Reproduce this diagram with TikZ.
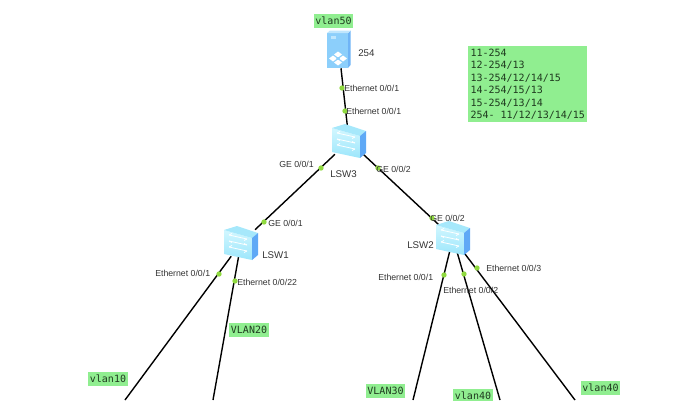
\documentclass[tikz,border=0pt]{standalone}
\usepackage{fontspec}
\setmainfont{Liberation Sans}
\newfontfamily\monofam{DejaVu Sans Mono}
\definecolor{notegreen}{HTML}{90EE90}
\definecolor{portgreen}{HTML}{8FD93F}
\definecolor{swtop}{HTML}{A6E8FB}
\definecolor{swfronta}{HTML}{D2F7FF}
\definecolor{swfrontb}{HTML}{9CE6FB}
\definecolor{swside}{HTML}{5FA9F6}
\definecolor{srvfront}{HTML}{8CCFFB}
\definecolor{srvtop}{HTML}{BFE6FD}
\definecolor{srvside}{HTML}{6FB4F6}
\definecolor{labelgrey}{HTML}{333333}
\definecolor{tagtext}{HTML}{1F3A1F}
\tikzset{
  swnode/.style={inner sep=0pt,minimum width=22.5pt,minimum height=19.5pt},
  srvnode/.style={inner sep=0pt,minimum width=16.5pt,minimum height=27pt},
  port/.style={circle,fill=portgreen,inner sep=0pt,minimum size=4pt},
  link/.style={draw=black,line width=1.05pt},
  portlabel/.style={inner sep=0pt,font=\fontsize{6.55}{8}\selectfont,text=labelgrey},
  devlabel/.style={inner sep=0pt,font=\fontsize{7.3}{9}\selectfont,text=labelgrey},
  tag/.style={fill=notegreen,inner sep=0pt,minimum width=29.5pt,minimum height=10.5pt,font=\monofam\fontsize{7.5}{9}\selectfont,text=tagtext},
  note/.style={fill=notegreen,inner sep=0pt,minimum width=89.25pt,minimum height=57pt,inner xsep=1.5pt,align=left,anchor=north west,font=\monofam\fontsize{7.5}{9.4}\selectfont,text=tagtext},
}
\newcommand{\switchicon}[1]{%
  \begin{scope}[shift={(#1)}]
    \shade[top color=swfronta,bottom color=swfrontb] (-17,-13) -- (11,-5) -- (11,17) -- (-17,11) -- cycle;
    \fill[swtop] (-17,-13) -- (-4,-17) -- (17,-10) -- (11,-5) -- cycle;
    \fill[swside] (11,-5) -- (17,-10) -- (17,12) -- (11,17) -- cycle;
    \draw[white,line width=.6pt] (-12,-8) -- (6,-4) (-12,-2) -- (6,2) (-12,4) -- (6,8);
    \draw[white,line width=.6pt] (-12,-8) -- (-9,-9.5) (6,-4) -- (3,-2.5) (-12,-2) -- (-9,-0.5) (6,2) -- (3,0.5) (-12,4) -- (-9,2.5) (6,8) -- (3,9.5);
  \end{scope}}
\newcommand{\servericon}[1]{%
  \begin{scope}[shift={(#1)}]
    \fill[srvfront] (-12,-17) -- (9,-17) -- (9,18) -- (-12,18) -- cycle;
    \fill[srvside] (9,-17) -- (11.5,-19.5) -- (11.5,15) -- (9,18) -- cycle;
    \fill[srvtop] (-12,-17) -- (9,-17) -- (11.5,-19.5) -- (-9,-19.5) -- cycle;
    \fill[srvtop] (-8,-14) rectangle (-3,-11);
    \fill[white] (-1,1.5) -- (3,4.5) -- (-1,7.5) -- (-5,4.5) -- cycle;
    \fill[white] (-6,5.5) -- (-2,8.5) -- (-6,11.5) -- (-10,8.5) -- cycle;
    \fill[white] (4,5.5) -- (8,8.5) -- (4,11.5) -- (0,8.5) -- cycle;
    \fill[white] (-1,9.5) -- (3,12.5) -- (-1,15.5) -- (-5,12.5) -- cycle;
    \fill[srvfront] (-1,7) -- (0.8,8.5) -- (-1,10) -- (-2.8,8.5) -- cycle;
  \end{scope}}
\begin{document}
\begin{tikzpicture}[x=0.75pt,y=-0.75pt]
\useasboundingbox (0,0) rectangle (689,400);
\clip (0,0) rectangle (689,400);
% device anchors
\node[srvnode] (srv) at (339,50) {};
\node[swnode] (sw3) at (349,141) {};
\node[swnode] (sw1) at (241,243) {};
\node[swnode] (sw2) at (453,238) {};
\coordinate (endA) at (125,400);
\coordinate (endB) at (213,400);
\coordinate (endC) at (413,400);
\coordinate (endD) at (500,400);
\coordinate (endE) at (575,400);
% links
\draw[link] (srv) -- (sw3);
\draw[link] (sw3) -- (sw1);
\draw[link] (sw3) -- (sw2);
\draw[link] (sw1) -- (endA);
\draw[link] (sw1) -- (endB);
\draw[link] (sw2) -- (endC);
\draw[link] (sw2) -- (endD);
\draw[link] (sw2) -- (endE);
% icons
\servericon{339,50}
\switchicon{349,141}
\switchicon{241,243}
\switchicon{453,238}
% ports
\node[port] (p1) at (342,88) {};
\node[port] (p2) at (345,111) {};
\node[port] (p3) at (321,168) {};
\node[port] (p4) at (378,168) {};
\node[port] (p5) at (264,222) {};
\node[port] (p6) at (219,274) {};
\node[port] (p7) at (235,281) {};
\node[port] (p8) at (432,218) {};
\node[port] (p9) at (444,275) {};
\node[port] (p10) at (464,274) {};
\node[port] (p11) at (477,268) {};
% port labels
\node[portlabel,anchor=west] (l1) at (344,88) {Ethernet 0/0/1};
\node[portlabel,anchor=west] (l2) at (346,111) {Ethernet 0/0/1};
\node[portlabel,anchor=east] (l3) at (314,164) {GE 0/0/1};
\node[portlabel,anchor=west] (l4) at (376,169) {GE 0/0/2};
\node[portlabel,anchor=west] (l5) at (268,223) {GE 0/0/1};
\node[portlabel,anchor=west] (l6) at (155,273) {Ethernet 0/0/1};
\node[portlabel,anchor=west] (l7) at (237,282) {Ethernet 0/0/22};
\node[portlabel,anchor=west] (l8) at (430,218) {GE 0/0/2};
\node[portlabel,anchor=west] (l9) at (378,277) {Ethernet 0/0/1};
\node[portlabel,anchor=west] (l10) at (443,290) {Ethernet 0/0/2};
\node[portlabel,anchor=west] (l11) at (486,268) {Ethernet 0/0/3};
% device labels
\node[devlabel,anchor=west] (d0) at (358,53) {254};
\node[devlabel,anchor=west] (d3) at (330,174) {LSW3};
\node[devlabel,anchor=west] (d1) at (262,255) {LSW1};
\node[devlabel,anchor=west] (d2) at (407,245) {LSW2};
% tags
\node[tag] (t50) at (333.5,20.5) {vlan50};
\node[tag] (t20) at (249,329.5) {VLAN20};
\node[tag] (t10) at (108,379) {vlan10};
\node[tag] (t30) at (385.5,390.5) {VLAN30};
\node[tag] (t40a) at (473,395.5) {vlan40};
\node[tag] (t40b) at (600.5,387.5) {vlan40};
% note
\node[note] (nt) at (468,46) {11-254\\12-254/13\\13-254/12/14/15\\14-254/15/13\\15-254/13/14\\254- 11/12/13/14/15};
\end{tikzpicture}
\end{document}
